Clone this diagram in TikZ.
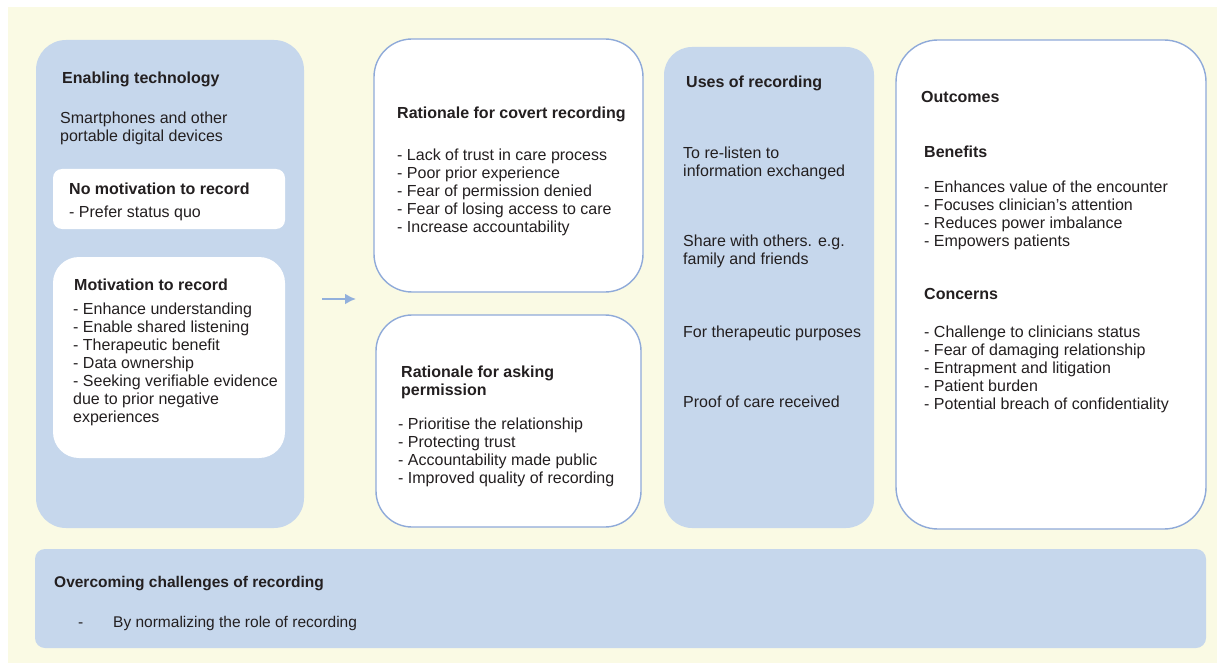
\documentclass[tikz,border=0pt]{standalone}
\usepackage{fontspec}
\setmainfont{Liberation Sans}
\usetikzlibrary{arrows.meta}
\definecolor{bgyellow}{HTML}{FAFAE4}
\definecolor{panelblue}{HTML}{C6D7EC}
\definecolor{edgeblue}{HTML}{8FAAD9}
\definecolor{arrowblue}{HTML}{92B0DC}
\definecolor{inktext}{HTML}{231F20}
\begin{document}
\begin{tikzpicture}[x=1pt,y=-1pt,
        bluepanel/.style={fill=panelblue,draw=none,inner sep=0pt},
        whitepanel/.style={fill=white,draw=edgeblue,line width=1.4pt,inner sep=0pt},
        plainpanel/.style={fill=white,draw=none,inner sep=0pt},
        head/.style={anchor=north west,inner sep=0pt,align=left,text=inktext,font=\fontsize{16}{18}\selectfont\bfseries},
        body/.style={anchor=north west,inner sep=0pt,align=left,text=inktext,font=\fontsize{16}{18}\selectfont},
        small/.style={anchor=base west,inner sep=0pt,text=inktext,font=\fontsize{15.5}{17}\selectfont}]
                \useasboundingbox (0,0) rectangle (1217,663);
                \fill[bgyellow] (8,7) rectangle (1217,663);

                \node[bluepanel,minimum width=268,minimum height=488,rounded corners=30] (enabling) at (170,284) {};
                \node[plainpanel,minimum width=232,minimum height=60,rounded corners=9] (nomotive) at (169,199) {};
                \node[plainpanel,minimum width=232,minimum height=201,rounded corners=26] (motive) at (169,357.5) {};
                \node[head] (enablingT) at (62,72) {Enabling technology};
                \node[body] (enablingB) at (60,112) {Smartphones and other\\portable digital devices};
                \node[head] (nomotiveT) at (69,183) {No motivation to record};
                \node[body] (nomotiveB) at (69,206) {- Prefer status quo};
                \node[head] (motiveT) at (74,279) {Motivation to record};
                \node[body] (motiveB) at (73,303) {- Enhance understanding\\- Enable shared listening\\- Therapeutic benefit\\- Data ownership\\- Seeking verifiable evidence\\due to prior negative\\experiences};

                \coordinate (arrowS) at (322,299);
                \coordinate (arrowE) at (356,299);
                \draw[arrowblue,line width=2.6pt,-{Latex[length=11pt,width=11pt]}] (arrowS) -- (arrowE);

                \node[whitepanel,minimum width=269,minimum height=253,rounded corners=38] (covert) at (508.5,165.5) {};
                \node[head] (covertT) at (397,107) {Rationale for covert recording};
                \node[body] (covertB) at (397,149) {- Lack of trust in care process\\- Poor prior experience\\- Fear of permission denied\\- Fear of losing access to care\\- Increase accountability};

                \node[whitepanel,minimum width=265,minimum height=212,rounded corners=36] (asking) at (508.5,421) {};
                \node[head] (askingT) at (401,366) {Rationale for asking\\permission};
                \node[body] (askingB) at (398,418) {- Prioritise the relationship\\- Protecting trust\\- Accountability made public\\- Improved quality of recording};

                \node[bluepanel,minimum width=210,minimum height=481,rounded corners=28] (uses) at (769,287.5) {};
                \node[head] (usesT) at (686,76) {Uses of recording};
                \node[body] (usesA) at (683,147) {To re-listen to\\information exchanged};
                \node[body] (usesB) at (683,235) {Share with others. e.g.\\family and friends};
                \node[body] (usesC) at (683,326) {For therapeutic purposes};
                \node[body] (usesD) at (683,396) {Proof of care received};

                \node[whitepanel,minimum width=310,minimum height=489,rounded corners=42] (outcomes) at (1051,284.5) {};
                \node[head] (outcomesT) at (921,91) {Outcomes};
                \node[head] (benefitsT) at (924,146) {Benefits};
                \node[body] (benefitsB) at (924,181) {- Enhances value of the encounter\\- Focuses clinician's attention\\- Reduces power imbalance\\- Empowers patients};
                \node[head] (concernsT) at (924,288) {Concerns};
                \node[body] (concernsB) at (924,326) {- Challenge to clinicians status\\- Fear of damaging relationship\\- Entrapment and litigation\\- Patient burden\\- Potential breach of confidentiality};

                \node[bluepanel,minimum width=1171,minimum height=99,rounded corners=10] (overcoming) at (620.5,598.5) {};
                \node[small,font=\fontsize{15.5}{17}\selectfont\bfseries] (overcomingT) at (54,587) {Overcoming challenges of recording};
                \node[small] (overcomingD) at (78,627) {-};
                \node[small] (overcomingB) at (113,627) {By normalizing the role of recording};
            \end{tikzpicture}
\end{document}
